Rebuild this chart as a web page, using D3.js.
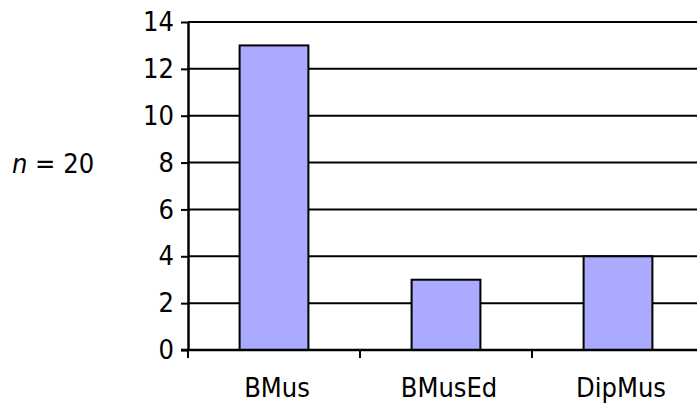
<!DOCTYPE html>
<html>
<head>
<meta charset="utf-8">
<script src="https://cdn.jsdelivr.net/npm/d3@7"></script>
<style>
  body { margin: 0; background: #fff; }
  text { font-family: "DejaVu Sans Condensed", "DejaVu Sans", sans-serif; font-stretch: condensed; fill: #000; }
</style>
</head>
<body>
<div class="grafico"></div>
<script>
const d = document;

/* Datos */
const categorias = ["BMus", "BMusEd", "DipMus"];
const valores = [13, 3, 4];
const ticksY = [0, 2, 4, 6, 8, 10, 12, 14];
const nTotal = 20;

const width = 697;
const height = 405;
const fuente = "\"DejaVu Sans Condensed\", \"DejaVu Sans\", sans-serif";

const svg = d3.select(d.querySelector(".grafico")).append("svg")
  .attr("width", width).attr("height", height);

const x = d3.scaleBand().domain(categorias).range([188, 704])
  .paddingInner(0.6).paddingOuter(0.3);
const y = d3.scaleLinear().domain([0, 14]).range([350, 22]);

// Lineas de cuadricula
svg.append("g")
  .selectAll("line")
  .data(ticksY.slice(1))
  .enter().append("line")
  .attr("x1", 188).attr("x2", width)
  .attr("y1", (v) => y(v)).attr("y2", (v) => y(v))
  .style("stroke", "#000").style("stroke-width", 2);

// Barras
svg.append("g")
  .selectAll("rect")
  .data(valores)
  .enter().append("rect")
  .attr("x", (v, i) => x(categorias[i]))
  .attr("y", (v) => y(v))
  .attr("width", x.bandwidth())
  .attr("height", (v) => y(0) - y(v))
  .style("fill", "#aaaaff")
  .style("stroke", "#000")
  .style("stroke-width", 2);

// Eje Y
const ejeY = svg.append("g")
  .attr("transform", "translate(188,0)")
  .call(d3.axisLeft(y).tickValues(ticksY).tickSize(7).tickPadding(7).tickSizeOuter(0));
ejeY.select(".domain").style("stroke-width", 2.5);
ejeY.selectAll(".tick line").style("stroke-width", 2);
ejeY.selectAll("text").style("font-size", "27px").style("font-family", fuente);

// Eje X
const bordes = categorias.map((c) => x(c) - x.step() * 0.3);
svg.append("line")
  .attr("x1", 181).attr("x2", width)
  .attr("y1", y(0)).attr("y2", y(0))
  .style("stroke", "#000").style("stroke-width", 2.5);
svg.append("g")
  .selectAll("line")
  .data(bordes)
  .enter().append("line")
  .attr("x1", (b) => b).attr("x2", (b) => b)
  .attr("y1", y(0)).attr("y2", y(0) + 8)
  .style("stroke", "#000").style("stroke-width", 2);

svg.append("g")
  .selectAll("text")
  .data(categorias)
  .enter().append("text")
  .attr("x", (c) => x(c) + x.bandwidth() / 2 + 3)
  .attr("y", 397)
  .attr("text-anchor", "middle")
  .style("font-size", "27px")
  .text((c) => c);

// Etiqueta n
const etiqueta = svg.append("text").attr("x", 12).attr("y", 173).style("font-size", "27px");
etiqueta.append("tspan").style("font-style", "italic").text("n");
etiqueta.append("tspan").text(" = " + nTotal);
</script>
</body>
</html>
